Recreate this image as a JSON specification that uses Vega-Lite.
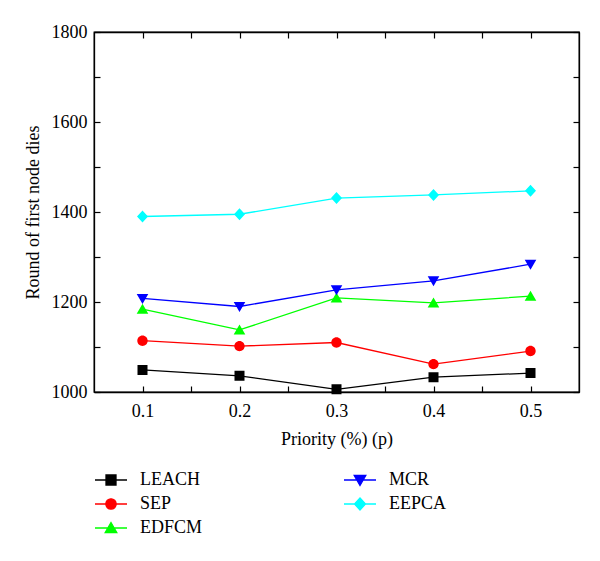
{
  "$schema": "https://vega.github.io/schema/vega-lite/v6.json",
  "width": 485,
  "height": 360,
  "autosize": {"type": "none"},
  "padding": {"left": 94, "top": 32, "right": 21, "bottom": 169},
  "background": "white",
  "config": {
    "font": "Liberation Serif",
    "view": {"stroke": "black", "strokeWidth": 1.3},
    "axis": {
      "labelFont": "Liberation Serif",
      "labelFontSize": 18,
      "labelColor": "black",
      "titleFont": "Liberation Serif",
      "titleFontSize": 18,
      "titleFontWeight": "normal",
      "titleColor": "black",
      "domainColor": "black",
      "domainWidth": 1.3,
      "tickColor": "black",
      "tickWidth": 1.2,
      "tickSize": -6,
      "grid": false
    },
    "legend": {
      "labelFont": "Liberation Serif",
      "labelFontSize": 18,
      "labelColor": "black"
    }
  },
  "data": {
    "values": [
      {"series": "LEACH", "p": 0.1, "value": 1049},
      {"series": "LEACH", "p": 0.2, "value": 1036},
      {"series": "LEACH", "p": 0.3, "value": 1006},
      {"series": "LEACH", "p": 0.4, "value": 1033},
      {"series": "LEACH", "p": 0.5, "value": 1042},
      {"series": "SEP", "p": 0.1, "value": 1114},
      {"series": "SEP", "p": 0.2, "value": 1102},
      {"series": "SEP", "p": 0.3, "value": 1110},
      {"series": "SEP", "p": 0.4, "value": 1062},
      {"series": "SEP", "p": 0.5, "value": 1091},
      {"series": "EDFCM", "p": 0.1, "value": 1184},
      {"series": "EDFCM", "p": 0.2, "value": 1138},
      {"series": "EDFCM", "p": 0.3, "value": 1209},
      {"series": "EDFCM", "p": 0.4, "value": 1198},
      {"series": "EDFCM", "p": 0.5, "value": 1213},
      {"series": "MCR", "p": 0.1, "value": 1208},
      {"series": "MCR", "p": 0.2, "value": 1190},
      {"series": "MCR", "p": 0.3, "value": 1227},
      {"series": "MCR", "p": 0.4, "value": 1247},
      {"series": "MCR", "p": 0.5, "value": 1284},
      {"series": "EEPCA", "p": 0.1, "value": 1390},
      {"series": "EEPCA", "p": 0.2, "value": 1395},
      {"series": "EEPCA", "p": 0.3, "value": 1431},
      {"series": "EEPCA", "p": 0.4, "value": 1438},
      {"series": "EEPCA", "p": 0.5, "value": 1447}
    ]
  },
  "layer": [
    {
      "mark": {"type": "line", "strokeWidth": 1.3},
      "encoding": {
        "x": {
          "field": "p", "type": "quantitative",
          "scale": {"domain": [0.05, 0.55], "nice": false, "zero": false},
          "axis": {
            "orient": "bottom",
            "values": [0.1, 0.15, 0.2, 0.25, 0.3, 0.35, 0.4, 0.45, 0.5],
            "format": ".1f",
            "labelExpr": "abs(round(datum.value*100) % 10) < 0.5 ? datum.label : ''",
            "labelPadding": 16,
            "title": "Priority (%) (p)",
            "titlePadding": 10
          }
        },
        "y": {
          "field": "value", "type": "quantitative",
          "scale": {"domain": [1000, 1800], "nice": false, "zero": false},
          "axis": {
            "orient": "left",
            "values": [1000, 1100, 1200, 1300, 1400, 1500, 1600, 1700, 1800],
            "labelExpr": "datum.value % 200 === 0 ? datum.label : ''",
            "format": "d",
            "labelPadding": 13,
            "title": "Round of first node dies",
            "titlePadding": 9
          }
        },
        "color": {
          "field": "series", "type": "nominal",
          "scale": {
            "domain": ["LEACH", "SEP", "EDFCM", "MCR", "EEPCA"],
            "range": ["#000000", "#ff0000", "#00ff00", "#0000ff", "#00ffff"]
          },
          "legend": {
            "title": null,
            "orient": "none",
            "legendX": 6,
            "legendY": 437,
            "columns": 2,
            "columnPadding": 138,
            "rowPadding": 4,
            "padding": 0,
            "symbolSize": 400,
            "labelOffset": 18,
            "labelFont": "Liberation Serif",
            "labelFontSize": 18,
            "labelColor": "black"
          }
        },
        "detail": {"field": "series"}
      }
    },
    {
      "mark": {"type": "point", "filled": true, "opacity": 1, "size": 400, "strokeWidth": 0},
      "encoding": {
        "x": {
          "field": "p", "type": "quantitative",
          "axis": {
            "orient": "top",
            "values": [0.1, 0.15, 0.2, 0.25, 0.3, 0.35, 0.4, 0.45, 0.5],
            "labels": false,
            "title": null
          }
        },
        "y": {
          "field": "value", "type": "quantitative",
          "axis": {
            "orient": "right",
            "values": [1000, 1100, 1200, 1300, 1400, 1500, 1600, 1700, 1800],
            "labels": false,
            "title": null
          }
        },
        "color": {
          "field": "series", "type": "nominal",
          "legend": {
            "title": null,
            "orient": "none",
            "legendX": 6,
            "legendY": 437,
            "columns": 2,
            "columnPadding": 138,
            "rowPadding": 4,
            "padding": 0,
            "symbolSize": 400,
            "labelOffset": 18,
            "labelFont": "Liberation Serif",
            "labelFontSize": 18,
            "labelColor": "black",
            "symbolStrokeWidth": 1.3,
            "encode": {
              "symbols": {
                "update": {
                  "stroke": {"scale": "color", "field": "value"},
                  "strokeWidth": {"value": 1.3},
                  "opacity": {"value": 1}
                }
              }
            }
          }
        },
        "shape": {
          "field": "series", "type": "nominal",
          "scale": {
            "domain": ["LEACH", "SEP", "EDFCM", "MCR", "EEPCA"],
            "range": [
              "M-0.5,-0.5H0.5V0.5H-0.5Z M-1.6,0H1.6",
              "M-0.52,0A0.52,0.52 0 1,0 0.52,0A0.52,0.52 0 1,0 -0.52,0Z M-1.6,0H1.6",
              "M0,-0.55L0.58,0.45H-0.58Z M-1.6,0H1.6",
              "M0,0.55L0.58,-0.45H-0.58Z M-1.6,0H1.6",
              "M0,-0.6L0.55,0L0,0.6L-0.55,0Z M-1.6,0H1.6"
            ]
          },
          "legend": {
            "title": null,
            "orient": "none",
            "legendX": 6,
            "legendY": 437,
            "columns": 2,
            "columnPadding": 138,
            "rowPadding": 4,
            "padding": 0,
            "symbolSize": 400,
            "labelOffset": 18,
            "labelFont": "Liberation Serif",
            "labelFontSize": 18,
            "labelColor": "black"
          }
        }
      }
    }
  ],
  "resolve": {"axis": {"x": "independent", "y": "independent"}}
}
